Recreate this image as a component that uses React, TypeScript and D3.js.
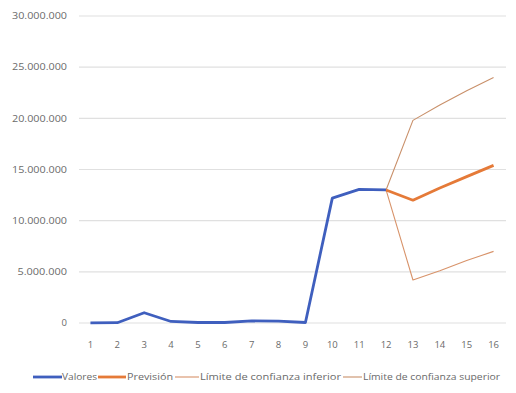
import React from "react";
import * as d3 from "d3";

const categories = ["1","2","3","4","5","6","7","8","9","10","11","12","13","14","15","16"];
const valores: (number|null)[] = [0.02e6,0.03e6,1.0e6,0.15e6,0.05e6,0.05e6,0.2e6,0.18e6,0.05e6,12.2e6,13.05e6,13.0e6,null,null,null,null];
const prevision: (number|null)[] = [null,null,null,null,null,null,null,null,null,null,null,13.0e6,12.0e6,13.2e6,14.3e6,15.4e6];
const limInf: (number|null)[] = [null,null,null,null,null,null,null,null,null,null,null,13.0e6,4.2e6,5.1e6,6.1e6,7.0e6];
const limSup: (number|null)[] = [null,null,null,null,null,null,null,null,null,null,null,13.0e6,19.8e6,21.3e6,22.7e6,24.0e6];
const yTicks = [0,5e6,10e6,15e6,20e6,25e6,30e6];
const yTickLabels = ["0","5.000.000","10.000.000","15.000.000","20.000.000","25.000.000","30.000.000"];
const legendLabels = ["Valores","Previsión","Límite de confianza inferior","Límite de confianza superior"];

const W = 516, H = 393;

export default function App() {
  const x = d3.scaleBand<string>().domain(categories).range([77, 507]);
  const y = d3.scaleLinear().domain([0, 30e6]).range([323, 16]);
  const cx = (c: string) => (x(c) as number) + x.bandwidth() / 2;
  const mk = (vals: (number|null)[]) =>
    d3.line<number|null>()
      .defined(d => d !== null)
      .x((_, i) => cx(categories[i]))
      .y(d => y(d as number))(vals) as string;

  const font = "'Open Sans', sans-serif";
  const textCol = "#6a6a6a";
  const series = [
    { vals: limSup, color: "#c9906a", w: 1.1 },
    { vals: limInf, color: "#d8936a", w: 1.1 },
    { vals: valores, color: "#3f5fbe", w: 2.8 },
    { vals: prevision, color: "#e57a38", w: 2.8 },
  ];
  const legend = [
    { x1: 33, x2: 62, tx: 62, tw: 35, color: "#3f5fbe", w: 2.8 },
    { x1: 98, x2: 126, tx: 127, tw: 46, color: "#e57a38", w: 2.8 },
    { x1: 175, x2: 199, tx: 200, tw: 141, color: "#d8936a", w: 1.1 },
    { x1: 343, x2: 362, tx: 363, tw: 137, color: "#c9906a", w: 1.1 },
  ];

  return (
    <svg width={W} height={H} style={{ position: "absolute", left: 0, top: 0, background: "#fff" }}>
      {yTicks.map((t, i) => (
        <g key={t}>
          <line x1={79} x2={506} y1={y(t)} y2={y(t)} stroke="#e0e0e0" strokeWidth={1.2} />
          <text x={67} y={y(t)} dy="0.35em" textAnchor="end" fontFamily={font} fontSize={9.5} fill={textCol}
            textLength={yTickLabels[i].length > 1 ? yTickLabels[i].length * 5.5 : undefined} lengthAdjust="spacingAndGlyphs">
            {yTickLabels[i]}
          </text>
        </g>
      ))}
      {categories.map(c => (
        <text key={c} x={cx(c)} y={345} dy="0.35em" textAnchor="middle" fontFamily={font} fontSize={9.5} fill={textCol}>{c}</text>
      ))}
      {series.map((s, i) => (
        <path key={i} d={mk(s.vals)} fill="none" stroke={s.color} strokeWidth={s.w} strokeLinejoin="round" />
      ))}
      {legend.map((l, i) => (
        <g key={i}>
          <line x1={l.x1} x2={l.x2} y1={377} y2={377} stroke={l.color} strokeWidth={l.w} />
          <text x={l.tx} y={377} dy="0.35em" fontFamily={font} fontSize={9.5} fill={textCol}
            textLength={l.tw} lengthAdjust="spacingAndGlyphs">{legendLabels[i]}</text>
        </g>
      ))}
    </svg>
  );
}
